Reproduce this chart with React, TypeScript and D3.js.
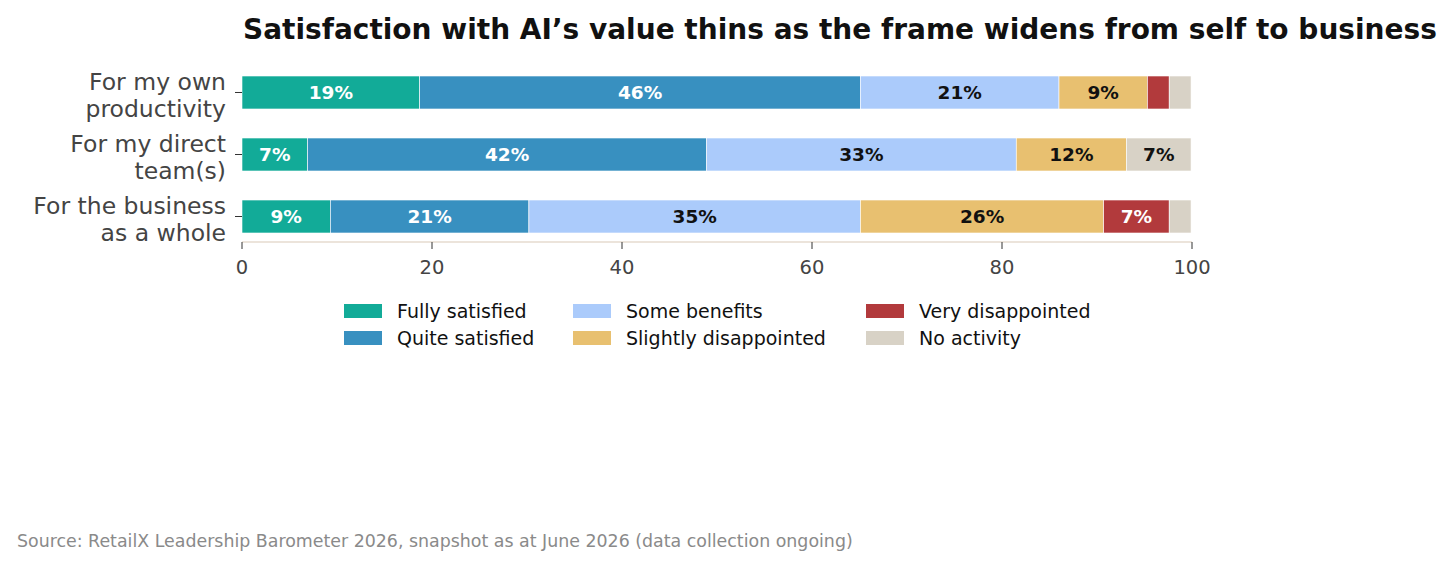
import * as d3 from 'd3';
import { type FC, useEffect } from 'react';

const categories = [
  'For my own\nproductivity',
  'For my direct\nteam(s)',
  'For the business\nas a whole',
];

const seriesNames = [
  'Fully satisfied',
  'Quite satisfied',
  'Some benefits',
  'Slightly disappointed',
  'Very disappointed',
  'No activity',
];

const seriesColors = ['#12ab98', '#3890c0', '#abcbfb', '#e8c070', '#b23a3c', '#d8d2c6'];
const labelColors = ['#ffffff', '#ffffff', '#111111', '#111111', '#ffffff', '#111111'];

// values per category, in series order
const ownValues = [18.7, 46.4, 20.9, 9.3, 2.3, 2.3];
const teamValues = [6.9, 42.0, 32.6, 11.6, 0, 6.8];
const businessValues = [9.3, 20.9, 34.9, 25.6, 6.9, 2.3];

const xTicks = [0, 20, 40, 60, 80, 100];

const FONT = "'DejaVu Sans', sans-serif";

const App: FC = () => {
  useEffect(() => {
    document.body.style.margin = '0';
  }, []);

  const width = 1456;
  const height = 567;
  const margin = { left: 242, right: 264 };

  const rows = [ownValues, teamValues, businessValues];

  const x = d3.scaleLinear().domain([0, 100]).range([margin.left, width - margin.right]);
  const y = d3
    .scaleBand<string>()
    .domain(categories)
    .range([60.5, 248.5])
    .paddingInner(0.468)
    .paddingOuter(0.25);

  const stackData = rows.map((vals, i) => {
    const obj: Record<string, number | string> = { cat: categories[i] };
    seriesNames.forEach((s, j) => (obj[s] = vals[j]));
    return obj;
  });
  const stacked = d3.stack<Record<string, number | string>>().keys(seriesNames)(stackData as any);

  const axisY = 242;

  return (
    <svg width={width} height={height} style={{ display: 'block', fontFamily: FONT }}>
      <rect width={width} height={height} fill="#ffffff" />
      <text x={margin.left + 1} y={39} fontSize={28} fontWeight={700} fill="#111111">
        Satisfaction with AI’s value thins as the frame widens from self to business
      </text>

      {stacked.map((layer, si) => (
        <g key={layer.key}>
          {layer.map((d, ci) => {
            const cat = categories[ci];
            const x0 = x(d[0]);
            const x1 = x(d[1]);
            const w = x1 - x0;
            const v = d[1] - d[0];
            if (v <= 0) return null;
            const yy = y(cat)!;
            return (
              <g key={cat}>
                <rect
                  x={x0}
                  y={yy}
                  width={w}
                  height={y.bandwidth()}
                  fill={seriesColors[si]}
                  stroke="#ffffff"
                  strokeWidth={0.6}
                />
                {v >= 5 && (
                  <text
                    x={x0 + w / 2}
                    y={yy + y.bandwidth() / 2}
                    dy="0.36em"
                    textAnchor="middle"
                    fontSize={18.5}
                    fontWeight={700}
                    fill={labelColors[si]}
                  >
                    {Math.round(v)}%
                  </text>
                )}
              </g>
            );
          })}
        </g>
      ))}

      {/* y axis ticks and labels */}
      {categories.map((c) => {
        const cy = y(c)! + y.bandwidth() / 2;
        const lines = c.split('\n');
        return (
          <g key={c}>
            <line x1={margin.left - 7} x2={margin.left} y1={cy} y2={cy} stroke="#333" strokeWidth={1} />
            {lines.map((ln, i) => (
              <text
                key={ln}
                x={margin.left - 16}
                y={cy - 2.5 + i * 27}
                textAnchor="end"
                fontSize={23.5}
                fill="#444444"
              >
                {ln}
              </text>
            ))}
          </g>
        );
      })}

      {/* x axis */}
      <line x1={margin.left} x2={width - margin.right} y1={axisY} y2={axisY} stroke="#d9c9b8" strokeWidth={1.2} />
      {xTicks.map((t) => (
        <g key={t}>
          <line x1={x(t)} x2={x(t)} y1={axisY} y2={axisY + 7} stroke="#333" strokeWidth={1} />
          <text x={x(t)} y={axisY + 32} textAnchor="middle" fontSize={19.5} fill="#444444">
            {t}
          </text>
        </g>
      ))}

      {/* legend */}
      {seriesNames.map((s, i) => {
        const col = Math.floor(i / 2);
        const row = i % 2;
        const lx = [344, 573, 866][col];
        const ly = 304 + row * 27;
        return (
          <g key={s}>
            <rect x={lx} y={ly} width={38} height={14} fill={seriesColors[i]} />
            <text x={lx + 53} y={ly + 7} dy="0.36em" fontSize={19} fill="#111111">
              {s}
            </text>
          </g>
        );
      })}

      <text x={17} y={547} fontSize={17.4} fill="#8a8a8a">
        Source: RetailX Leadership Barometer 2026, snapshot as at June 2026 (data collection ongoing)
      </text>
    </svg>
  );
};

export default App;
